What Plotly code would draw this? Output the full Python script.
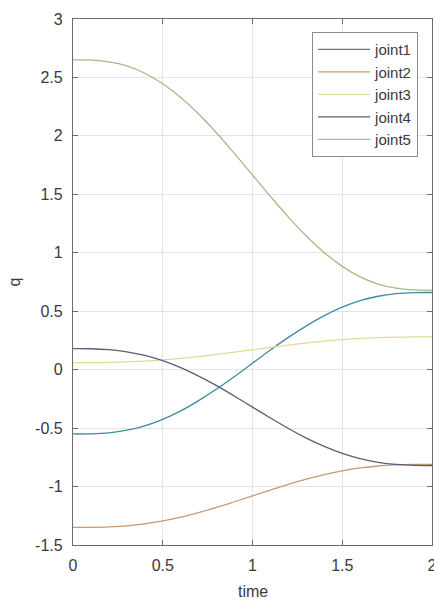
import plotly.graph_objects as go

time = [0.0, 0.1, 0.2, 0.3, 0.4, 0.5, 0.6, 0.7, 0.8, 0.9, 1.0,
        1.1, 1.2, 1.3, 1.4, 1.5, 1.6, 1.7, 1.8, 1.9, 2.0]

joint1 = [-0.550, -0.549, -0.540, -0.518, -0.480, -0.425, -0.353, -0.265, -0.166, -0.058, 0.055,
          0.168, 0.276, 0.375, 0.463, 0.535, 0.590, 0.628, 0.650, 0.659, 0.660]
joint2 = [-1.350, -1.349, -1.345, -1.336, -1.319, -1.294, -1.262, -1.223, -1.179, -1.130, -1.080,
          -1.030, -0.981, -0.937, -0.898, -0.866, -0.841, -0.824, -0.815, -0.811, -0.810]
joint3 = [0.060, 0.060, 0.062, 0.066, 0.073, 0.083, 0.096, 0.112, 0.130, 0.150, 0.170,
          0.190, 0.210, 0.228, 0.244, 0.257, 0.267, 0.274, 0.278, 0.280, 0.280]
joint4 = [0.180, 0.179, 0.171, 0.153, 0.122, 0.077, 0.017, -0.055, -0.137, -0.227, -0.320,
          -0.413, -0.503, -0.585, -0.657, -0.717, -0.762, -0.793, -0.811, -0.819, -0.820]
joint5 = [2.650, 2.648, 2.633, 2.598, 2.536, 2.446, 2.329, 2.187, 2.025, 1.848, 1.665,
          1.482, 1.305, 1.143, 1.001, 0.884, 0.794, 0.732, 0.697, 0.682, 0.680]

names = ["joint1", "joint2", "joint3", "joint4", "joint5"]
series = [joint1, joint2, joint3, joint4, joint5]
colors = ["#3f8aa3", "#c49a74", "#e6d99a", "#5e5c76", "#a9b884"]

xticks = [0, 0.5, 1, 1.5, 2]
xtick_labels = ["0", "0.5", "1", "1.5", "2"]
yticks = [-1.5, -1, -0.5, 0, 0.5, 1, 1.5, 2, 2.5, 3]
ytick_labels = ["-1.5", "-1", "-0.5", "0", "0.5", "1", "1.5", "2", "2.5", "3"]

fig = go.Figure()
for name, ys, c in zip(names, series, colors):
    fig.add_trace(go.Scatter(x=time, y=ys, name=name, mode="lines",
                             line=dict(color=c, width=1.3, shape="spline")))

axis_common = dict(showline=True, linecolor="#6b6b6b", linewidth=1.2, mirror="ticks",
                   ticks="inside", ticklen=5, tickcolor="#6b6b6b",
                   showgrid=True, gridcolor="#e4e4e4", gridwidth=1, zeroline=False,
                   ticklabeloverflow="allow", automargin=False,
                   tickfont=dict(family="Liberation Sans, Arial, sans-serif", size=16, color="#3a3a3a"))

fig.update_xaxes(range=[0, 2], tickvals=xticks, ticktext=xtick_labels,
                 ticklabelstandoff=6, **axis_common)
fig.update_yaxes(range=[-1.5, 3], tickvals=yticks, ticktext=ytick_labels,
                 title=dict(text="q", font=dict(family="Liberation Sans, Arial", size=16, color="#3a3a3a"),
                            standoff=10),
                 ticklabelstandoff=6, **axis_common)

fig.add_annotation(text="time", xref="paper", yref="paper", x=0.5, y=-46 / 526,
                   xanchor="center", yanchor="middle", showarrow=False,
                   font=dict(family="Liberation Sans, Arial", size=16, color="#3a3a3a"))

fig.update_layout(
    width=434, height=604, autosize=False,
    margin=dict(l=73, r=2, t=19, b=59),
    plot_bgcolor="white", paper_bgcolor="white",
    showlegend=True,
    legend=dict(x=0.666, y=0.975, xanchor="left", yanchor="top",
                bgcolor="white", bordercolor="#8a8a8a", borderwidth=1,
                font=dict(family="Liberation Sans, Arial", size=15, color="#3a3a3a"),
                itemwidth=52, tracegroupgap=0),
)

fig.write_html("out.html", config={"displayModeBar": False},
               post_script="document.body.style.margin='0';document.body.style.overflow='hidden';")
